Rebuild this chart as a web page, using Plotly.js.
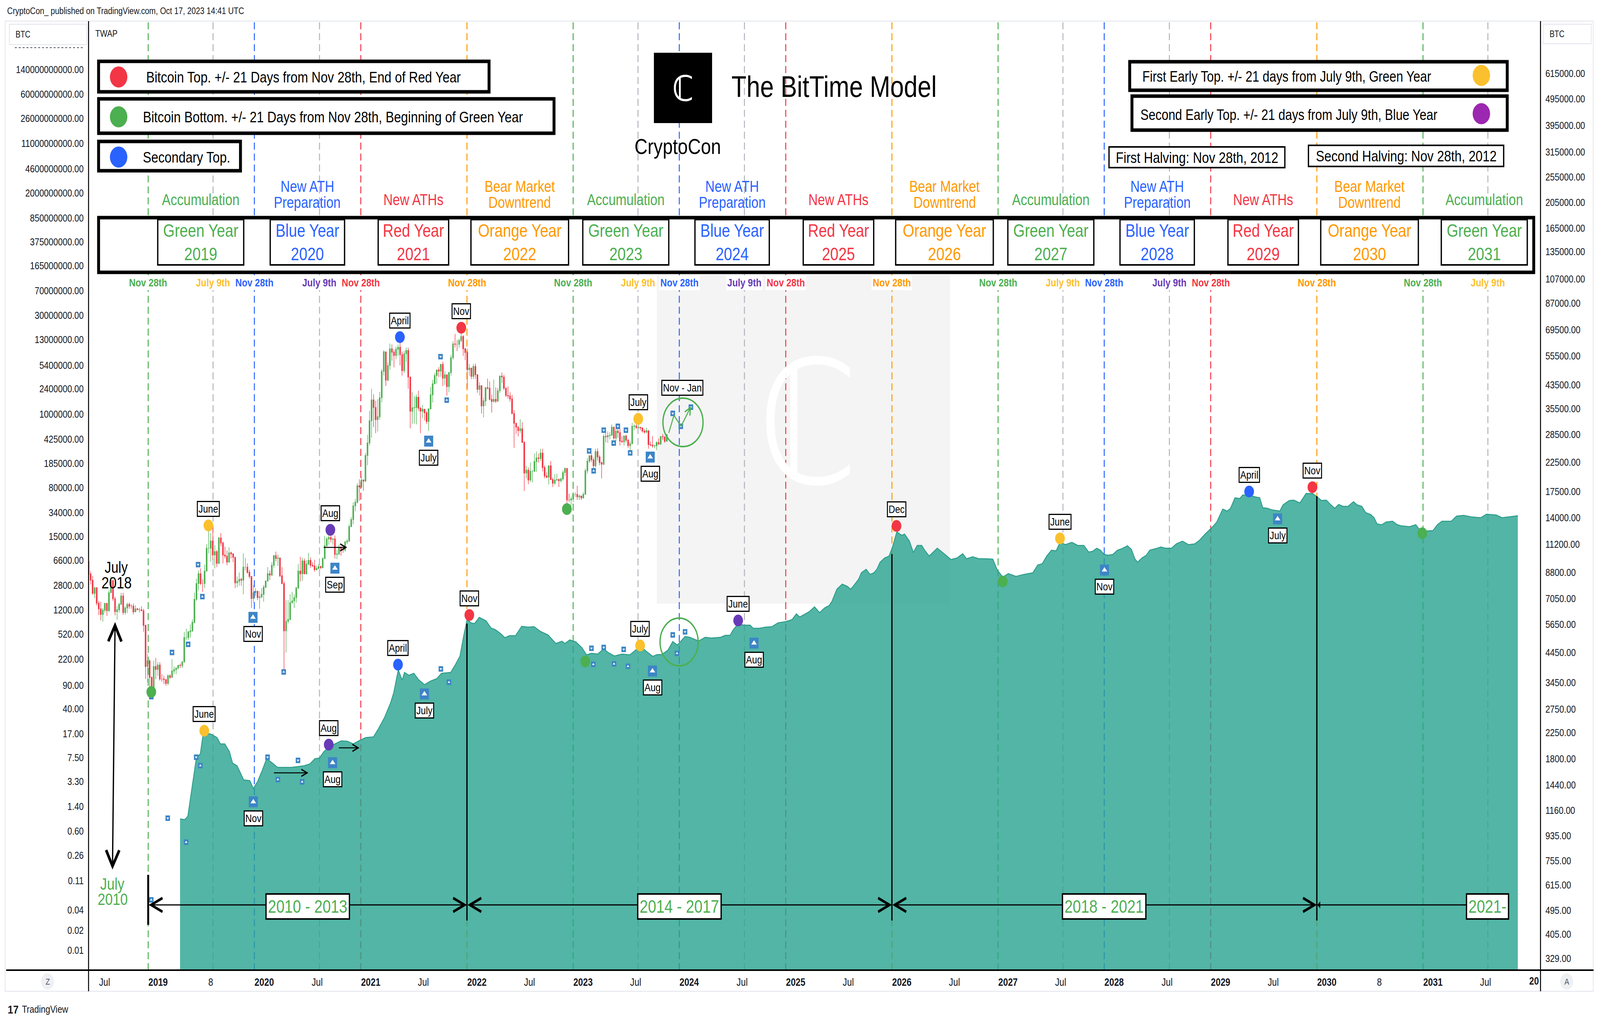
<!DOCTYPE html>
<html>
<head>
<meta charset="utf-8">
<script src="https://cdn.plot.ly/plotly-3.0.1.min.js"></script>
<style>
html,body{margin:0;padding:0;background:#ffffff;overflow:hidden;}
#wrap{position:absolute;left:0;top:0;width:4950px;height:2608px;transform-origin:0 0;}
#chart{width:4950px;height:2608px;}
</style>
</head>
<body>
<div id="wrap"><div id="chart"></div></div>
<script>
// ================= DATA =================
const candleStart = '2018-05-07';
const firstOpen = 9650;
const close2018 = [8690,8240,7360,7710, 6770,6450,6150,6380, 6750,6350,7400,8200,7030, 6300,6400,6700,7200, 6250,6500,6700,6600, 6600,6290,6450,6400,6400, 6350,5600,3950,4140, 3600,3200,3950,3850,4000];
const high2018  = [9990,8880,8530,7780, 7770,6900,6850,6500, 6800,6800,7550,8500,8250, 7150,6600,6800,7400, 7400,6600,6800,6800, 6700,6750,6650,6500,6500, 6600,6450,5650,4400, 4200,3630,4150,4250,4100];
const low2018   = [8350,7940,7270,7060, 6640,6120,5850,5780, 6240,6080,6280,7400,6900, 6100,5880,6250,6700, 6130,6150,6230,6450, 6450,6150,6280,6380,6250, 6330,5300,3550,3450, 3250,3150,3200,3550,3650];

const close2019 = [3550,3550,3530,3420, 3650,3600,3800,3850, 3900,3990,3980,4100, 5050,5050,5300,5350,5750, 7000,8000,8700,8000, 8000,8900,10800,10800, 11500,10200,10500,9500,11800, 11300,10200,10100,9600, 10400,10300,10000,8050, 8150,8300,8230,9200,9200, 8800,8500,7050,7400, 7500,7100,7150,7300,7750];
const high2019  = [4100,3700,3650,3550, 3700,3700,4200,3950, 3900,4000,4050,4150, 5300,5450,5350,5650,5900, 7400,8350,8950,9100, 8300,9400,11200,13800, 12300,13200,11100,10650,11900, 12300,11450,10950,10600, 10900,10500,10350,10050, 8500,8800,8400,10350,9950, 9500,9000,8500,7900, 7700,7450,7500,7700,7900];
const low2019   = [3500,3470,3400,3350, 3370,3550,3600,3700, 3700,3850,3900,3900, 4100,4950,4950,5050,5300, 5700,6900,7550,7900, 7450,7700,8900,10350, 9650,9800,9100,9200,9450, 11000,9500,9900,9350, 9600,9900,9600,7700, 7750,7850,7850,7300,8950, 8700,8350,6500,6800, 7200,6950,6450,7050,6850];

const close2020 = [8180,8700,8600,9350, 10150,9900,9950,8550, 8000,5350,5800,5900,6800, 6900,7100,7700,8900, 8700,9700,8700,9450, 9750,9350,9300,9000,9100, 9250,9160,9900,11050, 11700,11850,11650,11700,10250, 10300,10900,10750,10650, 11400,11500,13000,13800, 15500,16000,18400,18200,19300, 19150,23800,26500,32000];
const high2020  = [8200,9200,8950,9600, 10200,10500,10250,9980, 9200,8150,6950,6950,7300, 7450,7300,7800,9450, 10050,9950,9900,9750, 10400,10000,9600,9800,9300, 9450,9300,10000,12000, 11900,12100,12450,11800,12050, 10650,11150,11000,10950, 11500,11700,13250,14100, 15950,16450,18800,19450,19900, 19450,24300,28400,34800];
const low2020   = [7700,8150,8250,8550, 9150,9650,9300,8450, 7950,3800,4450,5700,5850, 6750,6500,6800,7650, 8150,8200,8650,8650, 9350,9150,9200,8850,8950, 9050,9050,9100,9850, 10950,11150,11350,11150,9900, 9850,10200,10150,10400, 10500,11200,11400,12950, 13250,14800,15800,16200,18050, 17600,19000,21900,25900];

const close2021 = [38200,35800,32300,33100, 38900,48700,57500,45200, 51200,59000,57350,55800,58800, 59800,56200,49000,56600, 58200,46400,34700,35700,35800, 39100,35600,34700,35300, 34250,31800,35400,39900, 43800,47000,49300,48800,51700, 46000,47300,42800,48200, 54700,61500,61300,61300, 63300,65500,59000,57200,49400, 50100,46700,50800,47300];
const high2021  = [42000,40100,37900,38500, 40900,49700,58300,57500, 52600,61700,61200,58500,60200, 61200,64800,57600,58000, 59600,59600,46600,40800,39500, 40000,41300,36000,36600, 35100,34700,35400,42600, 45300,48100,49400,50500,51900, 52900,48800,47300,48400, 56000,62900,67000,63700, 64300,69000,66300,59500,59100, 51900,50200,51900,52100];
const low2021   = [27700,30300,28800,29200, 32300,37400,47000,43000, 44900,49300,53300,50400,54000, 55500,51200,47000,48000, 52900,42000,30000,31200,31300, 31000,34800,28800,32700, 32100,31100,29300,35200, 37400,43800,43900,46400,46500, 43000,43400,39600,40800, 46900,53900,59700,57900, 59500,62300,55600,53600,42000, 46900,45600,45600,45700];

const close2022 = [41800,43100,36300,37900,42400, 42200,38400,37700,38400, 37800,41300,46800,46400, 42200,39700,39500,38500, 34000,31300,30300,29400,29900, 26600,20500,21000,19300, 20800,20800,22600,23300, 23200,24300,21500,20000,19800, 21800,19400,18800,19300, 19400,19200,19500,20600,21300, 16300,16300,16450,17100, 17100,16750,16840,16600];
const high2022  = [47600,44400,43400,38900,42600, 45800,44700,40000,45400, 42500,42300,47000,48200, 47400,42500,42900,40800, 39900,35000,31300,30600,32400, 31600,26900,21800,21500, 22400,21000,24200,24600, 24200,25200,25200,21900,20600, 21900,22700,19700,20300, 20400,19600,19700,21000,21500, 21400,17200,16800,17400, 17400,18400,17100,16950];
const low2022   = [40600,39700,34000,32900,36300, 41700,38000,34300,37400, 37200,37600,40500,44200, 41500,39200,38600,37600, 33800,25400,28600,28000,28800, 26500,17600,19600,18650, 19000,18900,20700,20700, 22400,22700,20800,19600,19600, 18600,19300,18200,18500, 19200,18200,18900,19200,20000, 15600,16000,15500,16000, 16700,16300,16300,16300];

const close2023 = [17100,20900,22700,23750,22950, 21800,24600,23500,22400, 22100,28000,27900,28200, 28300,30300,27600,29300, 28900,26900,26750,28100,27100, 25900,26300,30500,30600, 30200,30250,30100,29300,29050, 29400,26100,26000,25800, 25850,26550,26250,27950, 27900,26850,28400];
const high2023  = [17400,21300,23300,23800,24200, 23400,25200,25300,23900, 22600,28500,28900,29200, 29000,31000,30400,30000, 29800,29900,28000,28200,28400, 27400,26800,31400,31000, 31500,31800,30400,30100,29800, 30200,29500,26800,28100, 26100,26900,27500,28100, 28600,28000,28600];
const low2023   = [16500,17100,20400,22300,22500, 21400,21500,22800,21900, 19600,21900,26600,26500, 27300,28200,27200,26900, 27700,25900,26500,25900,26600, 25400,24800,26300,29600, 29800,29900,29500,28900,28600, 28800,25200,25800,25400, 25300,24900,26000,26000, 27200,26500,26800];

const AREA_SHIFT_YEARS = 8;
const areaYears = [
2011.207,2011.252,2011.280,2011.325,2011.359,2011.398,2011.426,2011.499,2011.556,2011.587,
2011.629,2011.672,2011.702,2011.745,2011.806,2011.864,2011.897,2011.937,2011.979,2012.022,
2012.068,2012.125,2012.198,2012.256,2012.372,2012.429,2012.475,2012.518,2012.560,2012.606,
2012.664,2012.722,2012.779,2012.837,2012.895,2012.953,2013.026,2013.071,2013.129,2013.187,
2013.217,2013.260,2013.296,2013.318,2013.360,2013.406,2013.449,2013.506,2013.564,2013.622,
2013.667,2013.753,2013.798,2013.841,2013.871,2013.908,2013.944,2013.978,2014.023,2014.087,
2014.133,2014.176,2014.221,2014.264,2014.306,2014.364,2014.422,2014.483,2014.540,2014.598,
2014.671,2014.744,2014.802,2014.829,2014.875,2014.933,2014.991,2015.033,2015.079,2015.137,
2015.194,2015.237,2015.295,2015.368,2015.441,2015.499,2015.544,2015.596,2015.657,2015.699,
2015.742,2015.800,2015.845,2015.888,2015.961,2016.004,2016.064,2016.092,2016.150,2016.207,
2016.296,2016.338,2016.384,2016.411,2016.457,2016.515,2016.573,2016.600,2016.661,2016.718,
2016.776,2016.834,2016.907,2016.965,2017.007,2017.038,2017.080,2017.126,2017.178,2017.226,
2017.272,2017.315,2017.342,2017.388,2017.439,2017.488,2017.518,2017.546,2017.592,2017.619,
2017.664,2017.701,2017.737,2017.765,2017.795,2017.838,2017.880,2017.911,2017.953,2017.999,
2018.026,2018.072,2018.109,2018.145,2018.188,2018.215,2018.258,2018.334,2018.407,2018.462,
2018.520,2018.574,2018.610,2018.668,2018.726,2018.784,2018.857,2018.900,2018.951,2019.003,
2019.076,2019.149,2019.234,2019.280,2019.322,2019.365,2019.410,2019.453,2019.490,2019.541,
2019.602,2019.657,2019.715,2019.761,2019.797,2019.836,2019.870,2019.906,2019.943,2019.988,
2020.031,2020.074,2020.125,2020.162,2020.195,2020.220,2020.262,2020.302,2020.335,2020.393,
2020.439,2020.481,2020.539,2020.585,2020.642,2020.700,2020.758,2020.801,2020.858,2020.919,
2020.962,2021.020,2021.062,2021.093,2021.135,2021.181,2021.208,2021.266,2021.330,2021.369,
2021.397,2021.442,2021.485,2021.558,2021.588,2021.646,2021.689,2021.747,2021.805,2021.865,
2021.902,2021.950,2021.996,2022.039,2022.075,2022.112,2022.154,2022.200,2022.252,2022.285,
2022.331,2022.367,2022.416,2022.446,2022.474,2022.517,2022.560,2022.620,2022.665,2022.708,
2022.781,2022.839,2022.881,2022.927,2023.000,2023.042,2023.085,2023.173,2023.222,2023.289,
2023.362,2023.450,2023.505,2023.596,2023.651,2023.709,2023.800];
const areaPrices = [
0.91,0.89,1.00,3.13,7.2,8.6,17.7,16.8,14.9,12.0,
12.0,9.2,6.2,5.65,3.49,3.40,2.59,3.30,4.75,7.2,
6.38,5.36,5.36,5.36,5.65,6.04,7.2,7.4,9.2,10.6,
12.0,13.3,13.2,12.0,13.5,14.9,15.3,20.0,29.5,49,
70,154,107,140,127,136,110,92,104,113,
136,140,183,246,450,869,769,750,929,823,
646,605,536,462,494,494,682,664,673,573,
508,378,409,378,427,399,326,256,270,263,
313,277,246,263,256,305,344,289,243,259,
259,301,404,358,481,469,427,415,469,456,
469,501,501,596,740,710,710,638,638,664,
673,769,801,857,1048,941,1021,1122,1334,1091,
1282,1390,1611,2443,2911,2685,2443,2754,3420,4295,
4842,4064,4295,4842,6166,7145,7640,10280,17580,15560,
16220,12740,8630,10990,10990,9350,7640,10000,8070,6770,
7145,8280,6960,7450,6960,6960,6870,4720,3705,4180,
3800,4064,4295,5610,5850,7640,9350,9100,12240,11290,
12240,10990,10990,8750,8980,10000,9350,8070,7850,8070,
9350,9860,10840,9610,6960,6166,7145,7850,9350,9860,
10420,10000,10000,11610,12740,11290,11610,13090,16440,20370,
24270,38300,35810,39370,56490,55080,62110,62110,58080,56490,
40360,39370,37250,35810,44360,51400,52120,47430,65460,65460,
59700,51400,52120,44360,39370,44970,42070,42070,49430,44360,
42070,33960,31700,28510,23010,22390,24600,25250,22390,21480,
20920,22390,18290,18060,18290,22390,25250,25250,30060,30900,
29310,28510,32140,31330,28510,29310,30480];

const cDotYears  = [2018.936, 2019.474, 2020.621, 2021.275, 2021.853, 2022.848, 2023.520];
const cDotPrices = [3180, 13120, 12640, 65200, 70600, 15080, 32500];
const cDotKinds  = ['bottom','early1','early2','second','top','bottom','early1'];
const cDotLabels = ['', 'June', 'Aug', 'April', 'Nov', '', 'July'];
const cTriYears  = [2019.894, 2020.664, 2021.546, 2023.633];
const cTriPrices = [6000, 9120, 26900, 23480];
const cTriLabels = ['Nov', 'Sep', 'July', 'Aug'];
const cSmallYears  = [2019.131,2019.283,2019.377,2019.417,2018.936,2020.183,2021.658,2021.716,2023.058,2023.100,2023.195,2023.289,2023.328,2023.404,2023.444,2023.845,2023.921,2024.016];
const cSmallPrices = [4450,4770,9400,7160,3055,3770,55200,38130,24750,20890,29520,26450,30510,29520,24340,34060,30510,35920];
const cSmallDirs   = ['down','up','down','up','up','up','down','up','down','up','down','up','down','down','up','down','up','down'];

const aDotYears  = [2011.435, 2012.606, 2013.257, 2013.929, 2015.021, 2015.538, 2016.460, 2017.950, 2018.951, 2019.490, 2021.269, 2021.865, 2022.900];
const aDotPrices = [18.9, 11.7, 183, 1007, 204, 353, 834, 21500, 3190, 14000, 70100, 81300, 16700];
const aDotKinds  = ['early1','early2','second','top','bottom','early1','early2','top','bottom','early1','second','top','bottom'];
const aDotLabels = ['June','Aug','April','Nov','','July','June','Dec','','June','April','Nov',''];
const aTriYears  = [2011.897, 2012.642, 2013.506, 2015.654, 2016.609, 2019.909, 2021.537];
const aTriPrices = [1.64, 6.3, 66.8, 147, 383, 4720, 27350];
const aTriLabels = ['Nov','Aug','July','Aug','Aug','Nov','July'];
const aSmallYears  = [2010.936,2011.091,2011.264,2011.359,2011.398,2012.031,2012.128,2012.317,2012.356,2013.661,2013.737,2015.079,2015.097,2015.195,2015.292,2015.383,2015.423,2015.845,2015.885,2015.961];
const aSmallPrices = [0.0565,0.935,0.41,7.6,5.7,7.6,3.53,6.82,3.26,158,100,321,185,330,188,309,173,508,270,565];
const aSmallDirs   = ['up','down','up','down','up','down','up','down','up','down','up','down','up','down','up','down','up','down','up','down'];

const cycleYears = [2019,2020,2021,2022,2023,2024,2025,2026,2027,2028,2029,2030,2031];
const cycleTypes = ['Green','Blue','Red','Orange','Green','Blue','Red','Orange','Green','Blue','Red','Orange','Green'];
const phaseText  = {Green:['Accumulation'], Blue:['New ATH','Preparation'], Red:['New ATHs'], Orange:['Bear Market','Downtrend']};
const eraLabels = ['2010 - 2013','2014 - 2017','2018 - 2021','2021-'];
const eraStarts = ['2018-11-28','2021-11-28','2025-11-28','2029-11-28'];
const eraEnds   = ['2021-11-28','2025-11-28','2029-11-28','2031-06-01'];

const xTickDates = ['2018-07-01','2019-01-01','2019-07-01','2020-01-01','2020-07-01','2021-01-01','2021-07-01','2022-01-01','2022-07-01','2023-01-01','2023-07-01','2024-01-01','2024-07-01','2025-01-01','2025-07-01','2026-01-01','2026-07-01','2027-01-01','2027-07-01','2028-01-01','2028-07-01','2029-01-01','2029-07-01','2030-01-01','2030-07-01','2031-01-01','2031-07-01'];
const xTickLabels = ['Jul','2019','8','2020','Jul','2021','Jul','2022','Jul','2023','Jul','2024','Jul','2025','Jul','2026','Jul','2027','Jul','2028','Jul','2029','Jul','2030','8','2031','Jul'];
const rightTicks = [615000,495000,395000,315000,255000,205000,165000,135000,107000,87000,69500,55500,43500,35500,28500,22500,17500,14000,11200,8800,7050,5650,4450,3450,2750,2250,1800,1440,1160,935,755,615,495,405,329];
const leftTicks = [140000000000,60000000000,26000000000,11000000000,4600000000,2000000000,850000000,375000000,165000000,70000000,30000000,13000000,5400000,2400000,1000000,425000,185000,80000,34000,15000,6600,2800,1200,520,220,90,40,17,7.5,3.3,1.4,0.6,0.26,0.11,0.04,0.02,0.01];

// ================= STYLE / HELPERS =================
const FONT = 'Liberation Sans, Arial, sans-serif';
const INK = '#131722';
const C = {Green:'#4caf50', Blue:'#2962ff', Red:'#f23645', Orange:'#ff9800', Yellow:'#fbc02d', Purple:'#673ab7', LegPurple:'#9c27b0', Gray:'#b2b5be', Tri:'#3d85c6'};
const kindColor = {top:C.Red, bottom:C.Green, second:C.Blue, early1:C.Yellow, early2:C.Purple};

const PL = 274, PR = 4766, PT = 54, PB = 2483;
const px = x => (x - PL) / (PR - PL);
const py = y => (PB - y) / (PB - PT);

function decYearToISO(yr){
  const y = Math.floor(yr);
  const s = Date.UTC(y,0,1), e = Date.UTC(y+1,0,1);
  return new Date(s + (yr - y) * (e - s)).toISOString().slice(0,19).replace('T',' ');
}
const toDates = (arr, shift) => arr.map(y => decYearToISO(y + shift));

const closes = [].concat(close2018, close2019, close2020, close2021, close2022, close2023);
const highs  = [].concat(high2018, high2019, high2020, high2021, high2022, high2023);
const lows   = [].concat(low2018, low2019, low2020, low2021, low2022, low2023);
const opens  = closes.map((c,i) => i === 0 ? firstOpen : closes[i-1]);
const t0 = Date.parse(candleStart + 'T00:00:00Z');
const weekDates = closes.map((_,i) => new Date(t0 + i*7*864e5).toISOString().slice(0,10));

const traces = [];
traces.push({
  type:'candlestick', x:weekDates, open:opens, high:highs, low:lows, close:closes,
  xaxis:'x', yaxis:'y', whiskerwidth:0, hoverinfo:'skip',
  increasing:{line:{color:C.Green, width:1.6}, fillcolor:C.Green},
  decreasing:{line:{color:C.Red, width:1.6}, fillcolor:C.Red}
});
function pushMarkers(xs, ys, yaxis, dirs, kinds, big){
  if (dirs || big){
    traces.push({type:'scatter', mode:'markers', x:xs, y:ys, yaxis, hoverinfo:'skip',
      marker:{symbol:'square', size: big ? 28 : 14, color:C.Tri}});
    traces.push({type:'scatter', mode:'markers', x:xs, y:ys, yaxis, hoverinfo:'skip',
      marker:{symbol: dirs ? dirs.map(d => d==='up' ? 'triangle-up' : 'triangle-down') : 'triangle-up', size: big ? 15 : 7, color:'#fff'}});
  } else {
    traces.push({type:'scatter', mode:'markers', x:xs, y:ys, yaxis, hoverinfo:'skip',
      marker:{size:30, color:kinds.map(k => kindColor[k])}});
  }
}
pushMarkers(toDates(cSmallYears,0), cSmallPrices, 'y', cSmallDirs, null, false);
pushMarkers(toDates(cTriYears,0), cTriPrices, 'y', null, null, true);
pushMarkers(toDates(cDotYears,0), cDotPrices, 'y', null, cDotKinds, false);

traces.push({type:'scatter', mode:'lines', x:toDates(areaYears, AREA_SHIFT_YEARS), y:areaPrices,
  yaxis:'y2', fill:'tozeroy', fillcolor:'rgba(39,162,142,0.8)', line:{color:'#2b9c89', width:2.5}, hoverinfo:'skip'});
pushMarkers(toDates(aSmallYears,AREA_SHIFT_YEARS), aSmallPrices, 'y2', aSmallDirs, null, false);
pushMarkers(toDates(aTriYears,AREA_SHIFT_YEARS), aTriPrices, 'y2', null, null, true);
pushMarkers(toDates(aDotYears,AREA_SHIFT_YEARS), aDotPrices, 'y2', null, aDotKinds, false);

// ================= SHAPES =================
const shapes = [];
function rectPx(x0,y0,x1,y1,opts){ shapes.push(Object.assign({type:'rect', xref:'paper', yref:'paper', x0:px(x0), x1:px(x1), y0:py(y1), y1:py(y0), layer:'above'}, opts)); }
function circlePx(cx,cy,rx,ry,opts){ shapes.push(Object.assign({type:'circle', xref:'paper', yref:'paper', x0:px(cx-rx), x1:px(cx+rx), y0:py(cy+ry), y1:py(cy-ry), layer:'above'}, opts)); }
function linePx(x0,y0,x1,y1,color,width,layer){ shapes.push({type:'line', xref:'paper', yref:'paper', x0:px(x0), x1:px(x1), y0:py(y0), y1:py(y1), line:{color, width}, layer:layer||'above'}); }

shapes.push({type:'rect', xref:'x', yref:'paper', x0:'2023-09-12', x1:'2026-06-16', y0:py(1545), y1:py(703), fillcolor:'#f4f4f4', line:{width:0}, layer:'below'});

cycleYears.forEach((yr,i) => {
  const t = cycleTypes[i];
  const d = (yr-1) + '-11-28';
  shapes.push({type:'line', xref:'x', yref:'paper', x0:d, x1:d, y0:0, y1:1, line:{color:C[t], width:3, dash:'18px,10px'}, layer:'below'});
  if (t === 'Green' || t === 'Blue'){
    const j = yr + '-07-09';
    shapes.push({type:'line', xref:'x', yref:'paper', x0:j, x1:j, y0:0, y1:1, line:{color:C.Gray, width:3, dash:'18px,10px'}, layer:'below'});
  }
});

linePx(15,54,4930,54,'#e0e3eb',2,'below');
linePx(15,2537,4930,2537,'#e0e3eb',2,'below');
linePx(16,54,16,2537,'#e0e3eb',2,'below');
linePx(4929,54,4929,2537,'#e0e3eb',2,'below');
linePx(274,54,274,2537,'#000',3);
linePx(4766,54,4766,2537,'#000',3);
linePx(19,2483,4930,2483,'#000',4);
rectPx(29,62,268,114,{fillcolor:'#fff', line:{color:'#e0e3eb', width:2}});
rectPx(4774,62,4923,112,{fillcolor:'#fff', line:{color:'#e0e3eb', width:2}});
shapes.push({type:'line', xref:'paper', yref:'paper', x0:px(46), x1:px(258), y0:py(122), y1:py(122), line:{color:INK, width:1.5, dash:'6px,6px'}, layer:'above'});

const thick = {fillcolor:'#fff', line:{color:'#000', width:9}};
rectPx(305,157,1513,235,thick);
rectPx(305,253,1714,341,thick);
rectPx(305,362,744,437,thick);
rectPx(3495,158,4663,231,thick);
rectPx(3502,246,4663,333,thick);
rectPx(3431,376,3975,429,{fillcolor:'#fff', line:{color:'#000', width:4}});
rectPx(4048,372,4652,426,{fillcolor:'#fff', line:{color:'#000', width:4}});
circlePx(367,197,27,27,{fillcolor:C.Red, line:{width:0}});
circlePx(367,299,27,27,{fillcolor:C.Green, line:{width:0}});
circlePx(367,402,27,27,{fillcolor:C.Blue, line:{width:0}});
circlePx(4583,193,27,27,{fillcolor:C.Yellow, line:{width:0}});
circlePx(4583,291,27,27,{fillcolor:C.LegPurple, line:{width:0}});
rectPx(2023,135,2203,315,{fillcolor:'#000', line:{width:0}});
rectPx(305,557,4745,697,thick);

shapes.push({type:'line', xref:'x', yref:'paper', x0:'2018-11-28', x1:'2018-11-28', y0:py(2367), y1:py(2239), line:{color:'#000', width:6}, layer:'above'});
[['2021-11-28',1596],['2025-11-28',1418],['2029-11-28',1270]].forEach(([d,top]) => {
  shapes.push({type:'line', xref:'x', yref:'paper', x0:d, x1:d, y0:py(2356), y1:py(top), line:{color:'#000', width:4}, layer:'above'});
});
circlePx(2113,1081,62,62,{line:{color:C.Green, width:4}, fillcolor:'rgba(0,0,0,0)'});
circlePx(2101,1643,59,61,{line:{color:C.Green, width:4}, fillcolor:'rgba(0,0,0,0)'});
shapes.push({type:'path', xref:'paper', yref:'paper', layer:'above', line:{color:C.Green, width:3},
  path:`M ${px(2069)} ${py(1108)} L ${px(2085)} ${py(1063)} L ${px(2107)} ${py(1091)}`});
circlePx(147,2512,20,21,{fillcolor:'#eef0f4', line:{width:0}});
circlePx(4847,2512,20,21,{fillcolor:'#eef0f4', line:{width:0}});

// ================= ANNOTATIONS =================
const ann = [];
function txt(x,y,text,size,color,opts){
  ann.push(Object.assign({xref:'paper', yref:'paper', x:px(x), y:py(y), text, showarrow:false,
    font:{size, color, family:FONT}, xanchor:'center', yanchor:'middle'}, opts||{}));
}
function arrowPx(hx,hy,tx,ty,opts){
  ann.push(Object.assign({xref:'paper', yref:'paper', x:px(hx), y:py(hy), axref:'pixel', ayref:'pixel', ax:tx-hx, ay:ty-hy,
    text:'', showarrow:true, arrowhead:5, arrowsize:1.4, arrowwidth:2.5, arrowcolor:'#000', standoff:0, startstandoff:0}, opts||{}));
}
function boxLabel(xDate, price, yref, text, above){
  if (!text) return;
  ann.push({xref:'x', yref, x:xDate, y:Math.log10(price), text, showarrow:false,
    font:{size:28, color:'#000', family:FONT}, bgcolor:'#fff', bordercolor:'#000', borderwidth:3, borderpad:2,
    xanchor:'center', yanchor: above ? 'bottom' : 'top', yshift: above ? 22 : -22});
}

txt(20,28,'CryptoCon_ published on TradingView.com, Oct 17, 2023 14:41 UTC',24,INK,{xanchor:'left'});
txt(46,88,'BTC',23,INK,{xanchor:'left'});
txt(4792,87,'BTC',23,INK,{xanchor:'left'});
txt(293,86,'TWAP',24,INK,{xanchor:'left'});

txt(450,197,'Bitcoin Top. +/- 21 Days from Nov 28th, End of Red Year',39,'#000',{xanchor:'left'});
txt(440,299,'Bitcoin Bottom. +/- 21 Days from Nov 28th, Beginning of Green Year',39,'#000',{xanchor:'left'});
txt(440,402,'Secondary Top.',39,'#000',{xanchor:'left'});
txt(3532,196,'First Early Top. +/- 21 days from July 9th, Green Year',38,'#000',{xanchor:'left'});
txt(3526,294,'Second Early Top. +/- 21 days from July 9th, Blue Year',38,'#000',{xanchor:'left'});
txt(3703,403,'First Halving: Nov 28th, 2012',39,'#000');
txt(4350,400,'Second Halving: Nov 28th, 2012',39,'#000');

txt(2261,222,'The BitTime Model',76,'#000',{xanchor:'left'});
txt(2097,374,'CryptoCon',56,'#000');
ann.push({xref:'paper', yref:'paper', x:px(2113), y:py(226), text:'<b>ℂ</b>', showarrow:false, font:{size:90, color:'#fff', family:'DejaVu Sans'}, xanchor:'center', yanchor:'middle'});
ann.push({xref:'paper', yref:'paper', x:px(2499), y:py(1085), text:'ℂ', showarrow:false, font:{size:440, color:'rgba(255,255,255,0.95)', family:'DejaVu Sans'}, xanchor:'center', yanchor:'middle'});

const boxWidth = {Green:262, Blue:226, Red:214, Orange:298};
cycleYears.forEach((yr,i) => {
  const t = cycleTypes[i];
  const center = (i === cycleYears.length-1) ? yr + '-06-27' : yr + '-05-28';
  const lines = phaseText[t];
  const ys = lines.length === 1 ? [511] : [477, 518];
  lines.forEach((s,k) => ann.push({xref:'x', yref:'paper', x:center, y:py(ys[k]), text:s, showarrow:false,
    font:{size:40, color:C[t], family:FONT}, xanchor:'center', yanchor:'middle'}));
  ann.push({xref:'x', yref:'paper', x:center, y:py(620), text:t + ' Year<br>' + yr, showarrow:false,
    font:{size:46, color:C[t], family:FONT}, bgcolor:'#fff', bordercolor:'#000', borderwidth:4, borderpad:0,
    width:boxWidth[t], align:'center', xanchor:'center', yanchor:'middle'});
  ann.push({xref:'x', yref:'paper', x:(yr-1)+'-11-28', y:py(723), text:'<b>Nov 28th</b>', showarrow:false,
    font:{size:28, color:C[t], family:FONT}, bgcolor:'#fff', borderpad:3, xanchor:'center', yanchor:'middle'});
  if (t === 'Green' || t === 'Blue'){
    ann.push({xref:'x', yref:'paper', x:yr+'-07-09', y:py(723), text:'<b>July 9th</b>', showarrow:false,
      font:{size:28, color: t === 'Green' ? C.Yellow : C.Purple, family:FONT}, bgcolor:'#fff', borderpad:3, xanchor:'center', yanchor:'middle'});
  }
});

cDotYears.forEach((y,i) => boxLabel(decYearToISO(y), cDotPrices[i], 'y', cDotLabels[i], true));
cTriYears.forEach((y,i) => boxLabel(decYearToISO(y), cTriPrices[i], 'y', cTriLabels[i], false));
aDotYears.forEach((y,i) => boxLabel(decYearToISO(y + AREA_SHIFT_YEARS), aDotPrices[i], 'y2', aDotLabels[i], true));
aTriYears.forEach((y,i) => boxLabel(decYearToISO(y + AREA_SHIFT_YEARS), aTriPrices[i], 'y2', aTriLabels[i], false));
txt(2111,992,'Nov - Jan',28,'#000',{bgcolor:'#fff', bordercolor:'#000', borderwidth:3, borderpad:2});

arrowPx(2138,1040,2107,1091,{arrowcolor:C.Green, arrowwidth:3, arrowsize:1.2});
arrowPx(1074,1401,1000,1401,{});
arrowPx(954,1978,846,1978,{});
arrowPx(1112,1914,1047,1914,{});

txt(359,1452,'July',40,'#000');
txt(360,1491,'2018',42,'#000');
txt(347,2262,'July',42,C.Green);
txt(348,2301,'2010',42,C.Green);
arrowPx(356,1592,348,2227,{arrowside:'end+start', arrowwidth:4, arrowsize:2});

eraLabels.forEach((lab,i) => {
  const last = i === eraLabels.length - 1;
  ann.push({xref:'x', yref:'paper', x:eraEnds[i], y:py(2316), axref:'x', ayref:'pixel', ax:eraStarts[i], ay:0,
    text:'', showarrow:true, arrowhead:5, arrowsize:2.3, arrowwidth:3, arrowcolor:'#000',
    arrowside: last ? 'start' : 'end+start', standoff:0, startstandoff:0});
});
eraLabels.forEach((lab,i) => {
  let center;
  if (i === eraLabels.length - 1) center = '2031-07-08';
  else {
    const a = Date.parse(eraStarts[i]), b = Date.parse(eraEnds[i]);
    center = new Date((a+b)/2).toISOString().slice(0,10);
  }
  ann.push({xref:'x', yref:'paper', x:center, y:py(2320), text:lab, showarrow:false,
    font:{size:46, color:C.Green, family:FONT}, bgcolor:'#fff', bordercolor:'#000', borderwidth:4, borderpad:4,
    xanchor:'center', yanchor:'middle'});
});

txt(4763,2511,'<b>20</b>',27,INK,{xanchor:'right'});
txt(147,2512,'Z',22,'#50535e');
txt(4847,2512,'A',22,'#50535e');
txt(22,2583,'<b>17</b>',30,INK,{xanchor:'left'});
txt(66,2583,'TradingView',26,INK,{xanchor:'left'});

// ================= LAYOUT =================
const layout = {
  width:4950, height:2608,
  margin:{l:PL, r:4950-PR, t:PT, b:2608-PB, pad:0},
  paper_bgcolor:'#ffffff', plot_bgcolor:'#ffffff',
  showlegend:false,
  font:{family:FONT, color:INK},
  xaxis:{type:'date', range:['2018-05-07','2032-01-06'], tickmode:'array', tickvals:xTickDates,
    ticktext:xTickLabels.map(s => /^\d{4}$/.test(s) ? '<b>'+s+'</b>' : s),
    showgrid:false, zeroline:false, showline:false, ticks:'', tickfont:{size:27, color:INK, family:FONT},
    ticklabelstandoff:12, rangeslider:{visible:false}, fixedrange:true},
  yaxis:{type:'log', side:'right', range:[2.4739,5.9825], tickmode:'array', tickvals:rightTicks,
    ticktext:rightTicks.map(v => v.toFixed(2)), showgrid:false, zeroline:false, showline:false, ticks:'',
    tickfont:{size:26, color:INK, family:FONT}, ticklabelstandoff:14, fixedrange:true},
  yaxis2:{type:'log', side:'left', overlaying:'y', range:[-2.297,11.866], tickmode:'array', tickvals:leftTicks,
    ticktext:leftTicks.map(v => v.toFixed(2)), showgrid:false, zeroline:false, showline:false, ticks:'',
    tickfont:{size:26, color:INK, family:FONT}, ticklabelstandoff:14, fixedrange:true},
  shapes, annotations:ann
};

// fit the 4950x2608 drawing into the viewport the page is shown in
function fit(){
  const w = window.innerWidth || 4950, h = window.innerHeight || 2608;
  document.getElementById('wrap').style.transform = 'scale(' + (w / 4950) + ',' + (h / 2608) + ')';
}
fit();
window.addEventListener('resize', fit);

Plotly.newPlot('chart', traces, layout, {staticPlot:true, displayModeBar:false});
</script>
</body>
</html>
